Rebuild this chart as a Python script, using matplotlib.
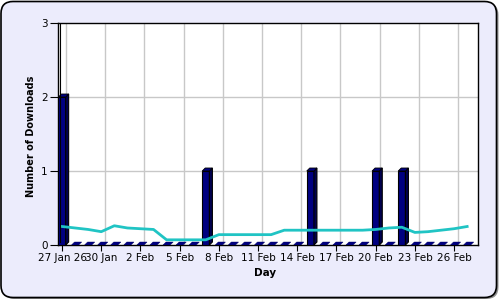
import matplotlib.pyplot as plt
from matplotlib.patches import FancyBboxPatch, Polygon, Rectangle

# Данные: дни с 27 янв (0) по 27 фев (31)
days = list(range(32))
downloads = [2, 0, 0, 0, 0, 0, 0, 0, 0, 0, 0, 1, 0, 0, 0, 0,
             0, 0, 0, 1, 0, 0, 0, 0, 1, 0, 1, 0, 0, 0, 0, 0]
trend = [0.25, 0.23, 0.21, 0.18, 0.26, 0.23, 0.22, 0.21, 0.07, 0.07, 0.07, 0.07,
         0.14, 0.14, 0.14, 0.14, 0.14, 0.20, 0.20, 0.20, 0.20, 0.20, 0.20, 0.20,
         0.21, 0.23, 0.24, 0.17, 0.18, 0.20, 0.22, 0.25]
tick_days = [0, 3, 6, 9, 12, 15, 18, 21, 24, 27, 30]
tick_labels = ["27 Jan 26", "30 Jan", "2 Feb", "5 Feb", "8 Feb", "11 Feb",
               "14 Feb", "17 Feb", "20 Feb", "23 Feb", "26 Feb"]

fig = plt.figure(figsize=(5, 3), dpi=100)
fig.patch.set_facecolor("white")

# Рамка с закруглёнными углами (в пикселях)
bg = fig.add_axes([0, 0, 1, 1], zorder=-1)
bg.set_xlim(0, 500)
bg.set_ylim(0, 300)
bg.axis("off")
bg.add_patch(FancyBboxPatch((2.5, 1), 496, 296, boxstyle="round,pad=0,rounding_size=12",
                            facecolor="#909090", edgecolor="none"))
bg.add_patch(FancyBboxPatch((1, 2.5), 495.5, 296, boxstyle="round,pad=0,rounding_size=12",
                            facecolor="#ECECFC", edgecolor="black", linewidth=1.2))

ax = fig.add_axes([58 / 500, 55 / 300, 420 / 500, 222 / 300])
ax.set_facecolor("white")
x0, x1 = -0.31, 31.83
ax.set_xlim(x0, x1)
ax.set_ylim(0, 3)

# Сетка, сдвинутая как в 3D-стене
for t in tick_days:
    ax.axvline(t + 0.3, color="#C8C8C8", linewidth=1, zorder=0)
for v in [1, 2]:
    ax.axhline(v, color="#C8C8C8", linewidth=1, zorder=0)

# Псевдо-3D столбцы
w = 0.55
dx = 3 / 13.07
dy = 3 / 74
for d, v in zip(days, downloads):
    l, r = d - w / 2, d + w / 2
    if v > 0:
        ax.add_patch(Rectangle((l, 0), w, v, facecolor="#000080", edgecolor="black",
                               linewidth=0.8, zorder=3))
        ax.add_patch(Polygon([(r, 0), (r + dx, dy), (r + dx, v + dy), (r, v)],
                             facecolor="#000050", edgecolor="black", linewidth=0.8, zorder=3))
        ax.add_patch(Polygon([(l, v), (l + dx, v + dy), (r + dx, v + dy), (r, v)],
                             facecolor="#000080", edgecolor="black", linewidth=0.6, zorder=3,
                             clip_on=False))
    else:
        ax.add_patch(Polygon([(l, 0), (l + dx, dy), (r + dx, dy), (r, 0)],
                             facecolor="#000080", edgecolor="#000060", linewidth=0.3,
                             zorder=3))

# Линия тренда
ax.plot(days, trend, color="#20C4C4", linewidth=2, zorder=4)

# Левая стенка
ax.plot([x0 + dx * 0.8, x0 + dx * 0.8], [dy, 3], color="black", linewidth=0.8, zorder=5)

for s in ax.spines.values():
    s.set_linewidth(1)
    s.set_color("black")

ax.set_xticks(tick_days)
ax.set_xticklabels(tick_labels, fontsize=7.5)
ax.set_yticks([0, 1, 2, 3])
ax.tick_params(axis="x", length=4, pad=1.5)
ax.tick_params(axis="y", length=6, pad=1.5, labelsize=7.5)

fig.text(31 / 500, 1 - 136 / 300, "Number of Downloads", rotation=90, ha="center",
         va="center", fontsize=7, fontweight="bold")
fig.text(265 / 500, 1 - 273 / 300, "Day", ha="center", va="center", fontsize=7.5,
         fontweight="bold")

fig.savefig("out.png", dpi=100)
